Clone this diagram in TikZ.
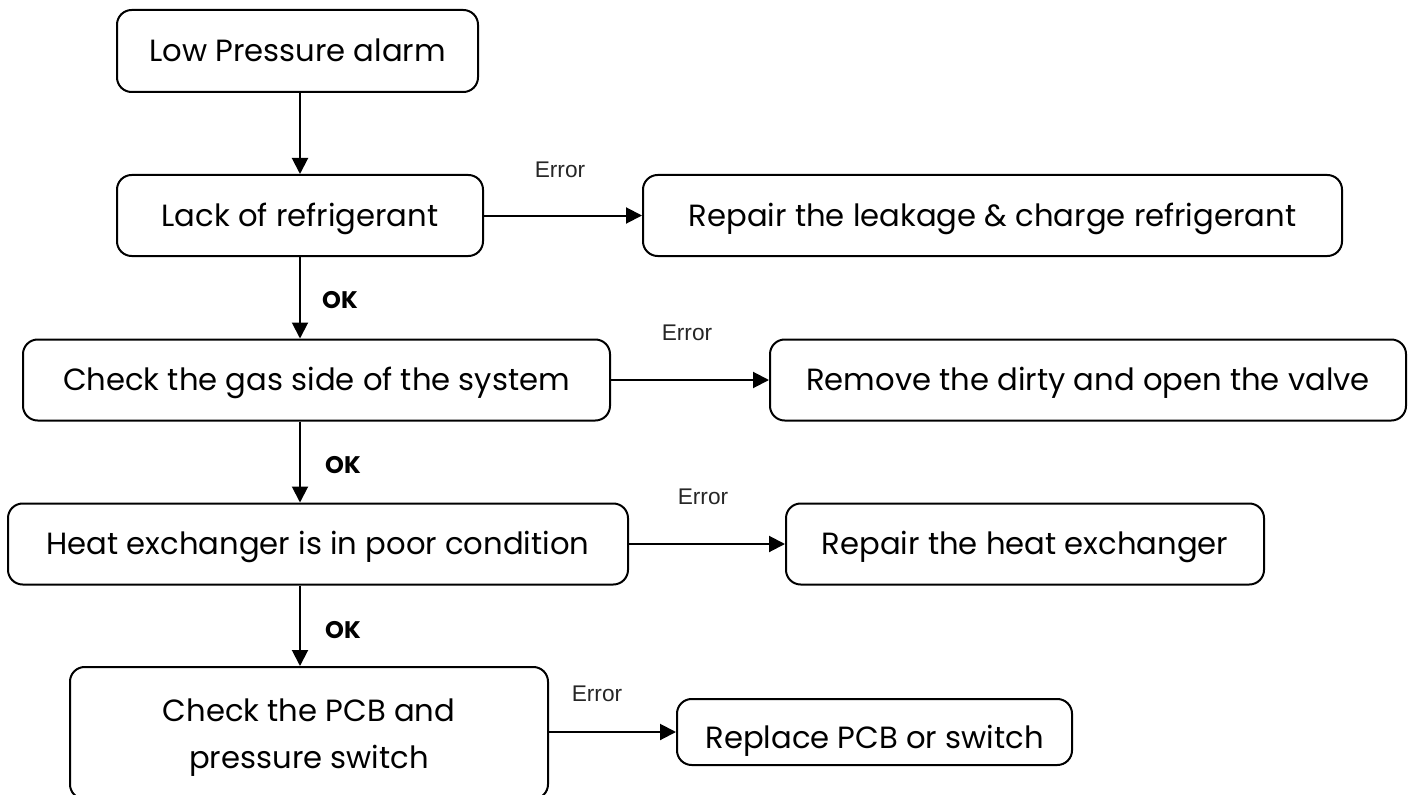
\documentclass[tikz,border=0pt]{standalone}
\usepackage{fontspec}
\setmainfont{Poppins}
\newfontfamily\errfont{Liberation Sans}
\usetikzlibrary{arrows.meta}
\newcommand\px{0.75pt}
\tikzset{
  box/.style={draw, line width=1.5pt, rounded corners=11pt, align=center, inner sep=0pt,
    text height=16pt, text depth=0pt, font=\fontsize{23}{35}\selectfont},
  flow/.style={line width=1.5pt, -{Triangle[length=12pt,width=12pt]}},
  errlabel/.style={font=\errfont\fontsize{17}{20}\selectfont, text=black!85},
  oklabel/.style={font=\bfseries\fontsize{18}{20}\selectfont},
}
\begin{document}
\begin{tikzpicture}[x=0.75pt, y=-0.75pt]
\useasboundingbox (0,0) rectangle (1416,795);
\coordinate (spine) at (300,0);

% Steps
\node[box, minimum width=361*\px, minimum height=82*\px] (alarm) at (297.5,51) {Low Pressure alarm};
\node[box, minimum width=366*\px, minimum height=81*\px] (lack) at (300,215.5) {Lack of refrigerant};
\node[box, minimum width=587*\px, minimum height=81*\px] (gas) at (316.5,380) {Check the gas side of the system};
\node[box, minimum width=620*\px, minimum height=81*\px] (heat) at (318,544) {Heat exchanger is in poor condition};
\node[box, text height=52.5pt, minimum width=478*\px, minimum height=132*\px] (pcb) at (309,733) {Check the PCB and\\pressure switch};

% Fixes
\node[box, minimum width=699*\px, minimum height=81*\px] (charge) at (992.5,215.5) {Repair the leakage \& charge refrigerant};
\node[box, minimum width=636*\px, minimum height=81*\px] (valve) at (1088,380) {Remove the dirty and open the valve};
\node[box, minimum width=478*\px, minimum height=81*\px] (repair) at (1025,544) {Repair the heat exchanger};
\node[box, text height=24pt, minimum width=395*\px, minimum height=66*\px] (replace) at (874.5,732) {Replace PCB or switch};

% Down the chain
\draw[flow] (alarm.south -| spine) -- (lack.north -| spine);
\draw[flow] (lack.south -| spine) -- (gas.north -| spine);
\draw[flow] (gas.south -| spine) -- (heat.north -| spine);
\draw[flow] (heat.south -| spine) -- (pcb.north -| spine);

% Error branches
\draw[flow] (lack.east) -- (charge.west |- lack.east);
\draw[flow] (gas.east) -- (valve.west);
\draw[flow] (heat.east) -- (repair.west);
\draw[flow] (pcb.east |- replace.west) -- (replace.west);

% Labels
\node[oklabel] (ok1) at (340,300) {OK};
\node[oklabel] (ok2) at (343,465) {OK};
\node[oklabel] (ok3) at (343,630) {OK};
\node[errlabel] (err1) at (560,170) {Error};
\node[errlabel] (err2) at (687,333) {Error};
\node[errlabel] (err3) at (703,497) {Error};
\node[errlabel] (err4) at (597,694) {Error};
\end{tikzpicture}
\end{document}
